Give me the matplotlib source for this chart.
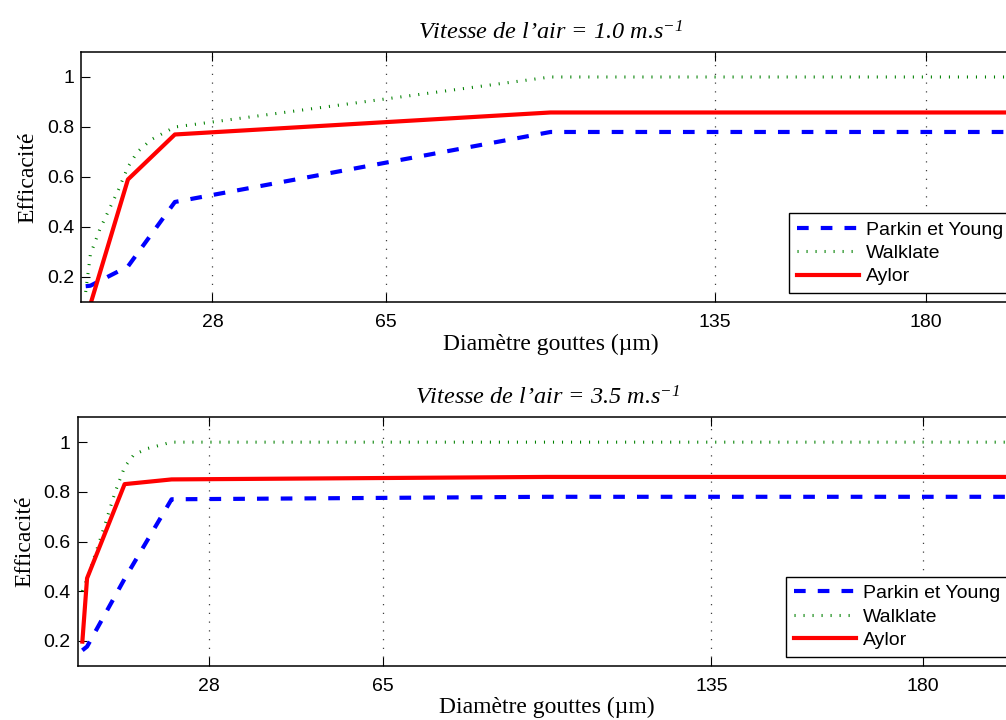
#!/usr/bin/env python3

import matplotlib
matplotlib.use("Agg")
import matplotlib.pyplot as plt

# x positions (droplet diameter, um)
x_pts = [1, 2, 10, 20, 100, 200]

# air speed 1.0 m/s
parkin_1 = [0.163, 0.165, 0.242, 0.50, 0.78, 0.78]
aylor_1 = [0.02, 0.09, 0.59, 0.77, 0.858, 0.858]
walk_x_1 = [1, 2, 4, 6, 8, 10, 12, 15, 20, 100, 200]
walk_1 = [0.14, 0.29, 0.39, 0.47, 0.55, 0.64, 0.70, 0.75, 0.80, 1.0, 1.0]

# air speed 3.5 m/s
parkin_x_2 = [1, 2, 10, 20, 100, 200]
parkin_2 = [0.162, 0.177, 0.45, 0.77, 0.78, 0.78]
aylor_2 = [0.197, 0.452, 0.831, 0.85, 0.86, 0.86]
walk_x_2 = [1, 2, 5, 8, 10, 12, 15, 20, 100, 200]
walk_2 = [0.40, 0.45, 0.62, 0.80, 0.90, 0.95, 0.975, 1.0, 1.0, 1.0]

titles = ["Vitesse de l\u2019air = 1.0 m.s$^{-1}$",
          "Vitesse de l\u2019air = 3.5 m.s$^{-1}$"]
xticks = [28, 65, 135, 180]
yticks = [0.2, 0.4, 0.6, 0.8, 1.0]
yticklabels = ["0.2", "0.4", "0.6", "0.8", "1"]
labels = ["Parkin et Young", "Walklate", "Aylor"]

plt.rcParams["mathtext.fontset"] = "custom"
plt.rcParams["mathtext.rm"] = "Liberation Serif:italic"
plt.rcParams["mathtext.it"] = "Liberation Serif:italic"

serif = "Liberation Serif"
sans = "Liberation Sans"

fig = plt.figure(figsize=(10.06, 7.2), dpi=100)
ax1 = fig.add_axes([0.0805, 0.5806, 0.9334, 0.3472])
ax2 = fig.add_axes([0.0772, 0.0754, 0.9334, 0.3450])

data = [
    (ax1, x_pts, parkin_1, walk_x_1, walk_1, x_pts, aylor_1, titles[0]),
    (ax2, parkin_x_2, parkin_2, walk_x_2, walk_2, x_pts, aylor_2, titles[1]),
]

for ax, px, py, wx, wy, ax_x, ay, title in data:
    ax.plot(px, py, color="#0000ff", lw=3, linestyle="--", dashes=(2.8, 2.9),
            label=labels[0])
    ax.plot(wx, wy, color="#008000", lw=2.2, linestyle=":", dashes=(0.35, 2.6),
            label=labels[1])
    ax.plot(ax_x, ay, color="#ff0000", lw=3, label=labels[2])

    ax.set_xlim(0, 200)
    ax.set_ylim(0.1, 1.1)
    ax.set_xticks(xticks)
    ax.set_xticklabels([str(t) for t in xticks], fontfamily=sans, fontsize=14)
    ax.set_yticks(yticks)
    ax.set_yticklabels(yticklabels, fontfamily=sans, fontsize=14)
    ax.tick_params(axis="x", direction="in", length=6.5, width=0.8, top=True, pad=8.5)
    ax.tick_params(axis="y", direction="in", length=6.5, width=0.8, right=True, pad=5)
    ax.xaxis.grid(True, linestyle=(0, (1, 6)), linewidth=0.9, color="0.25")
    for s in ax.spines.values():
        s.set_linewidth(1.1)

    ax.set_title(title, fontfamily=serif, fontstyle="italic", fontsize=17.5, pad=9)
    ax.set_xlabel("Diam\u00e8tre gouttes (\u00b5m)", fontfamily=serif, fontsize=17,
                  labelpad=2)
    ax.set_ylabel("Efficacit\u00e9", fontfamily=serif, fontsize=17, labelpad=6)

    leg = ax.legend(loc="lower right", prop={"family": sans, "size": 14},
                    fancybox=False, framealpha=1, edgecolor="black",
                    borderaxespad=0.45, borderpad=0.4, labelspacing=0.3,
                    handlelength=3.2, handletextpad=0.35)
    leg.get_frame().set_linewidth(1.0)

fig.savefig("out.png", dpi=100)
